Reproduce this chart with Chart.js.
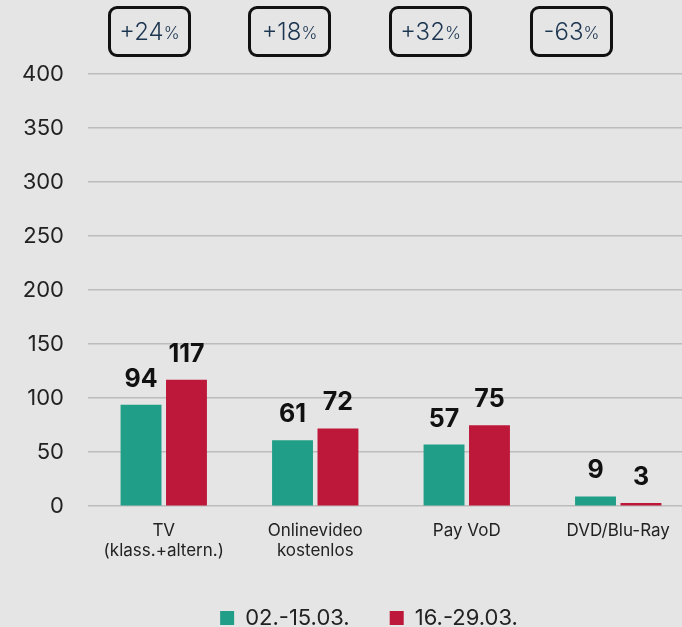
<!DOCTYPE html>
<html>
<head>
<meta charset="utf-8">
<script src="https://cdn.jsdelivr.net/npm/chart.js@4"></script>
<style>
  html, body { margin: 0; padding: 0; background: #e5e5e5; overflow: hidden; }
  body { width: 682px; height: 627px; position: relative; font-family: Inter, "Open Sans", sans-serif; }
  #wrap { position: absolute; left: 0; top: 12px; width: 694px; height: 627px; }
  .chg {
    position: absolute; top: 6px; width: 77px; height: 45px;
    border: 3px solid #111; border-radius: 9px;
    color: #1c3550; font-size: 24px; font-weight: 300;
    display: flex; align-items: center; justify-content: center;
  }
  .chg small { font-size: 17px; margin-top: 3px; }
</style>
</head>
<body>
<div id="wrap"><canvas id="chart"></canvas></div>
<script>
// values
const categories = [['TV', '(klass.+altern.)'], ['Onlinevideo', 'kostenlos'], 'Pay VoD', 'DVD/Blu-Ray'];
const seriesNames = ['02.-15.03.', '16.-29.03.'];
const before = [94, 61, 57, 9];
const after = [117, 72, 75, 3];
const changes = ['+24', '+18', '+32', '-63'];
const boxLeft = [108, 248, 389, 530];

changes.forEach((c, i) => {
  const d = document.createElement('div');
  d.className = 'chg';
  d.style.left = boxLeft[i] + 'px';
  d.innerHTML = c + '<small>%</small>';
  document.body.appendChild(d);
});

const FONT = 'Inter, "Open Sans", sans-serif';

// draws the value above every bar
const valueLabels = {
  id: 'valueLabels',
  afterDatasetsDraw(chart) {
    const ctx = chart.ctx;
    ctx.save();
    ctx.font = 'bold 25px ' + FONT;
    ctx.fillStyle = '#111';
    ctx.textAlign = 'center';
    ctx.textBaseline = 'alphabetic';
    chart.data.datasets.forEach((ds, i) => {
      chart.getDatasetMeta(i).data.forEach((bar, j) => {
        ctx.fillText(ds.data[j], bar.x, bar.y - 18);
      });
    });
    ctx.restore();
  }
};

// legend sits a bit right of centre in the original
const legendShift = {
  id: 'legendShift',
  afterLayout(chart) {
    chart.legend.left += 22;
    chart.legend.right += 22;
  }
};

new Chart(document.getElementById('chart'), {
  type: 'bar',
  data: {
    labels: categories,
    datasets: [
      { label: seriesNames[0], data: before, backgroundColor: '#219e87' },
      { label: seriesNames[1], data: after, backgroundColor: '#bd1839' },
    ],
  },
  options: {
    responsive: true,
    maintainAspectRatio: false,
    animation: false,
    datasets: { bar: { categoryPercentage: 0.6, barPercentage: 0.9 } },
    layout: { padding: { top: 62, left: 0, right: 0, bottom: 0 } },
    plugins: {
      tooltip: { enabled: false },
      legend: {
        position: 'bottom',
        labels: {
          boxWidth: 14, boxHeight: 14, padding: 40,
          color: '#222', font: { family: FONT, size: 22 },
        },
      },
    },
    scales: {
      x: {
        grid: { display: false },
        border: { display: false },
        ticks: { color: '#222', font: { family: FONT, size: 17 }, padding: 6, maxRotation: 0 },
      },
      y: {
        min: 0, max: 400,
        afterFit: (s) => { s.width = 88; },
        grid: { color: '#bcbcbc', lineWidth: 1.5, drawTicks: false },
        border: { display: false },
        ticks: { stepSize: 50, color: '#222', font: { family: FONT, size: 22 }, padding: 24 },
      },
    },
  },
  plugins: [valueLabels, legendShift],
});
</script>
</body>
</html>
